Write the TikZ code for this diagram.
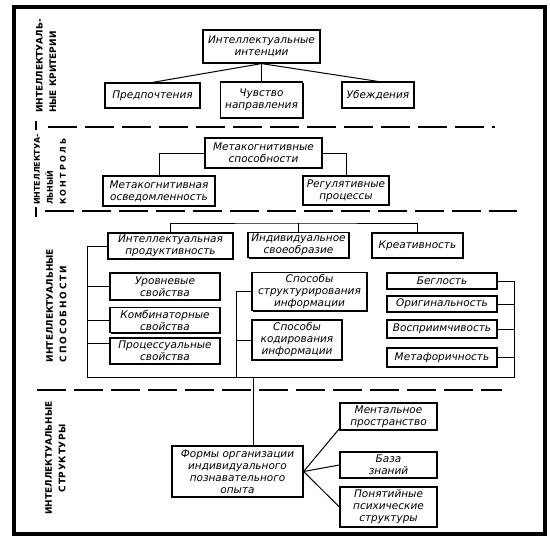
\documentclass[tikz,border=0pt]{standalone}
\usepackage{fontspec}
\setmainfont{DejaVu Sans}
\newfontfamily\boxfont{DejaVu Sans}
\newfontfamily\labfont{DejaVu Sans}
\usetikzlibrary{shadows}
\begin{document}
\begin{tikzpicture}[x=1pt,y=-1pt,
  box/.style={draw, line width=1.2pt, fill=white, align=center, inner sep=1pt,
    font=\boxfont\itshape\fontsize{10.5}{12}\selectfont,
    drop shadow={shadow xshift=1.4pt, shadow yshift=-1.4pt, fill=black, opacity=1}},
  conn/.style={line width=1pt},
  divider/.style={line width=1.3pt, dash pattern=on 29pt off 8pt},
  sectlabel/.style={rotate=90, align=left, inner sep=0pt,
    font=\labfont\bfseries\fontsize{9}{13.5}\selectfont},
  frame/.style={line width=4pt}]
\useasboundingbox (0,0) rectangle (550,544);
\draw[frame] (13.5,6.5) rectangle (545,533.5);

% dividers
\coordinate (d1a) at (48,127);   \coordinate (d1b) at (495,127);
\coordinate (d2a) at (45,211);   \coordinate (d2b) at (517,211);
\coordinate (d3a) at (37,390);   \coordinate (d3b) at (502,390);
\draw[divider] (d1a) -- (d1b);
\draw[divider] (d2a) -- (d2b);
\draw[divider] (d3a) -- (d3b);
\coordinate (k1a) at (36,121); \coordinate (k1b) at (36,130);
\coordinate (k2a) at (36,207); \coordinate (k2b) at (36,217);
\draw[line width=1.3pt] (k1a) -- (k1b);
\draw[line width=1.3pt] (k2a) -- (k2b);

% section labels
\node[sectlabel] (labA) at (46,66) {ИНТЕЛЛЕКТУАЛЬ-\\НЫЕ КРИТЕРИИ};
\node[sectlabel, font=\labfont\bfseries\fontsize{8}{13}\selectfont] (labB) at (50,169.5)
  {ИНТЕЛЛЕКТУА-\\ЛЬНЫЙ\\{\addfontfeature{LetterSpace=28}КОНТРОЛЬ}};
\node[sectlabel] (labC) at (56.5,305.5)
  {ИНТЕЛЛЕКТУАЛЬНЫЕ\\{\addfontfeature{LetterSpace=20}СПОСОБНОСТИ}};
\node[sectlabel, align=center] (labD) at (55.5,458)
  {ИНТЕЛЛЕКТУАЛЬНЫЕ\\{\addfontfeature{LetterSpace=8}СТРУКТУРЫ}};

% section 1
\node[box, minimum width=117pt, minimum height=33pt] (int) at (261.5,46.5) {Интеллектуальные\\интенции};
\node[box, minimum width=95pt, minimum height=25pt] (pred) at (152.5,95.5) {Предпочтения};
\node[box, minimum width=82pt, minimum height=36pt] (chuv) at (261.5,100) {Чувство\\направления};
\node[box, minimum width=72pt, minimum height=26pt] (ubezh) at (378,95) {Убеждения};
\draw[conn] (int.south) -- (pred.north);
\draw[conn] (int.south) -- (chuv.north);
\draw[conn] (int.south) -- (ubezh.north);

% section 2
\node[box, minimum width=117pt, minimum height=30pt] (meta) at (263.5,153) {Метакогнитивные\\способности};
\node[box, minimum width=112pt, minimum height=30pt] (osved) at (159,191) {Метакогнитивная\\осведомленность};
\node[box, minimum width=86pt, minimum height=29pt] (regul) at (346,190.5) {Регулятивные\\процессы};
\draw[conn] (meta.west) -| (osved.north);
\draw[conn] (meta.east) -| (regul.north);

% section 3
\node[box, minimum width=125pt, minimum height=26pt] (prod) at (170.5,246) {Интеллектуальная\\продуктивность};
\node[box, minimum width=101pt, minimum height=25pt] (indiv) at (298.5,245) {Индивидуальное\\своеобразие};
\node[box, minimum width=91pt, minimum height=25pt] (kreat) at (417.5,245.5) {Креативность};
\coordinate (top3) at (298.5,223);
\draw[conn] (prod.north) |- (top3) -| (kreat.north);
\draw[conn] (indiv.north) -- (top3);

\node[box, minimum width=110pt, minimum height=27pt] (urov) at (165,286.5) {Уровневые\\свойства};
\node[box, minimum width=110pt, minimum height=25pt] (komb) at (165,320) {Комбинаторные\\свойства};
\node[box, minimum width=110pt, minimum height=26pt] (proc) at (165,351) {Процессуальные\\свойства};

\node[box, minimum width=115pt, minimum height=38pt] (strukt) at (309.5,291.5) {Способы\\структурирования\\информации};
\node[box, minimum width=90pt, minimum height=40pt] (kod) at (297,340) {Способы\\кодирования\\информации};

\node[box, minimum width=110pt, minimum height=16pt] (begl) at (442,281) {Беглость};
\node[box, minimum width=110pt, minimum height=16pt] (orig) at (442,304) {Оригинальность};
\node[box, minimum width=110pt, minimum height=18pt] (vosp) at (442,329) {Восприимчивость};
\node[box, minimum width=110pt, minimum height=19pt] (metaf) at (442,357.5) {Метафоричность};

\coordinate (lb) at (87,377);
\coordinate (mb) at (236,377);
\coordinate (rb) at (514,377);
\coordinate (tr) at (253,377);
\draw[conn] (prod.west) -| (lb) -- (rb) |- (begl.east);
\draw[conn] (urov.west) -- (urov.west -| lb);
\draw[conn] (komb.west) -- (komb.west -| lb);
\draw[conn] ([yshift=8pt]proc.west) -- ([yshift=8pt]proc.west -| lb);
\draw[conn] (strukt.west) -| (mb);
\draw[conn] (kod.west) -- (kod.west -| mb);
\draw[conn] (orig.east) -- (orig.east -| rb);
\draw[conn] (vosp.east) -- (vosp.east -| rb);
\draw[conn] (metaf.east) -- (metaf.east -| rb);

% section 4
\node[box, minimum width=131pt, minimum height=51pt] (formy) at (237.5,471.5)
  {Формы организации\\индивидуального\\познавательного\\опыта};
\node[box, minimum width=97pt, minimum height=27pt] (ment) at (388.5,416.5) {Ментальное\\пространство};
\node[box, minimum width=97pt, minimum height=26pt] (baza) at (388.5,465) {База\\знаний};
\node[box, minimum width=97pt, minimum height=40pt] (pon) at (388.5,507) {Понятийные\\психические\\структуры};
\draw[conn] (tr) -- (tr |- formy.north);
\draw[conn] (formy.east) -- ([yshift=2pt]ment.south west);
\draw[conn] (formy.east) -- (baza.west);
\draw[conn] (formy.east) -- (pon.west);
\end{tikzpicture}
\end{document}
